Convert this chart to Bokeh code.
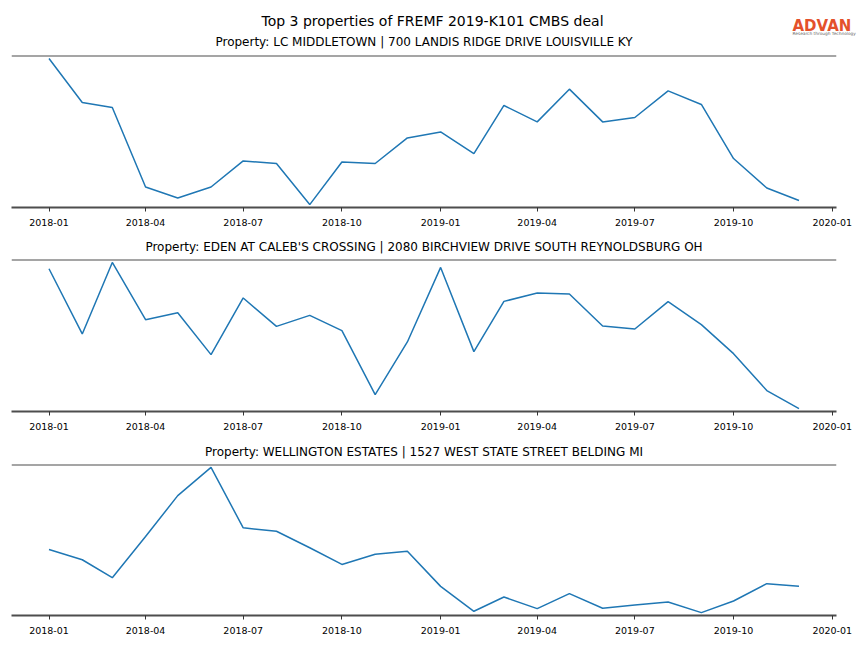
import pandas as pd
from bokeh.plotting import figure
from bokeh.layouts import column
from bokeh.models import FixedTicker, Span, Range1d, DatetimeTickFormatter
from bokeh.core.properties import value
from bokeh.embed import file_html
from bokeh.resources import INLINE

# ---------------- data ----------------
months = pd.date_range("2018-01-01", "2019-12-01", freq="MS")

main_title = "Top 3 properties of FREMF 2019-K101 CMBS deal"
subtitles = [
    "Property: LC MIDDLETOWN | 700 LANDIS RIDGE DRIVE LOUISVILLE KY",
    "Property: EDEN AT CALEB'S CROSSING | 2080 BIRCHVIEW DRIVE SOUTH REYNOLDSBURG OH",
    "Property: WELLINGTON ESTATES | 1527 WEST STATE STREET BELDING MI",
]

middletown = [148.4, 104.4, 99.4, 20.0, 9.0, 20.0, 46.0, 43.4, 2.4, 45.0, 43.4, 69.0,
              75.0, 53.4, 101.4, 85.0, 117.7, 85.0, 89.4, 116.0, 102.4, 48.4, 19.0, 6.4]
eden = [142.7, 77.4, 149.0, 91.7, 98.7, 56.7, 113.4, 85.0, 96.0, 80.7, 16.7, 69.4,
        144.0, 59.7, 110.0, 118.4, 117.4, 85.4, 82.4, 109.7, 86.7, 57.7, 20.7, 2.7]
wellington = [66.0, 55.7, 37.7, 79.0, 120.0, 148.3, 87.7, 84.3, 67.7, 51.0, 61.3, 64.3,
              29.0, 4.0, 18.3, 6.7, 21.7, 7.0, 10.3, 13.3, 2.7, 14.3, 31.7, 29.0]

tick_dates = ["2018-01-01", "2018-04-01", "2018-07-01", "2018-10-01", "2019-01-01",
              "2019-04-01", "2019-07-01", "2019-10-01", "2020-01-01"]
tick_labels = ["2018-01", "2018-04", "2018-07", "2018-10", "2019-01",
               "2019-04", "2019-07", "2019-10", "2020-01"]

logo_text = "ADVAN"
logo_tagline = "Research through Technology"

# ---------------- styling ----------------
FONT = "DejaVu Sans"
LINE = "#1f77b4"
SPINE = "#4d4d4d"
W = 864
HEADER_H = 52

tick_ms = [int(pd.Timestamp(d).value // 10**6) for d in tick_dates]
overrides = {ms: lab for ms, lab in zip(tick_ms, tick_labels)}

t0 = months[0]
t1 = months[-1]
xpad = (t1 - t0) * 0.05
x_start = t0 - xpad
x_end = t1 + xpad

# ---------------- header (suptitle, logo, first subplot title) ----------------
hdr = figure(width=W, height=HEADER_H, output_backend="svg", toolbar_location=None,
             x_range=Range1d(0, W), y_range=Range1d(HEADER_H, 0),
             x_axis_location=None, y_axis_location=None,
             min_border=0, min_border_left=0, min_border_right=0,
             min_border_top=0, min_border_bottom=0)
hdr.title = None
hdr.xgrid.visible = False
hdr.ygrid.visible = False
hdr.outline_line_color = None
hdr.background_fill_color = "white"
hdr.border_fill_color = "white"
hdr.text(x=[432], y=[20], text=[main_title], text_font=value(FONT),
         text_font_size=value("14px"), text_align="center",
         text_baseline="alphabetic", text_color="black")
hdr.text(x=[423.5], y=[41.5], text=[subtitles[0]], text_font=value(FONT),
         text_font_size=value("12px"), text_align="center",
         text_baseline="alphabetic", text_color="black")
hdr.text(x=[792], y=[25.5], text=[logo_text], text_font=value(FONT),
         text_font_size=value("15px"), text_font_style="bold", text_align="left",
         text_baseline="alphabetic", text_color="#e4512b")
hdr.text(x=[792], y=[32.5], text=[logo_tagline], text_font=value(FONT),
         text_font_size=value("4.3px"), text_align="left",
         text_baseline="alphabetic", text_color="#666666")

# ---------------- three panels ----------------
series = [middletown, eden, wellington]
heights = [232 - HEADER_H, 205, 211]
borders_top = [55 - HEADER_H, 26, 27]
borders_bottom = [25, 26, 33]

figs = []
for i, (vals, sub) in enumerate(zip(series, subtitles)):
    lo, hi = min(vals), max(vals)
    ypad = (hi - lo) * 0.02
    y0, y1 = lo - ypad, hi + ypad
    p = figure(width=W, height=heights[i], x_axis_type="datetime",
               output_backend="svg", toolbar_location=None,
               x_range=Range1d(x_start, x_end), y_range=Range1d(y0, y1),
               y_axis_location=None,
               min_border_left=11, min_border_right=28,
               min_border_top=borders_top[i], min_border_bottom=borders_bottom[i])
    if i > 0:
        p.title.text = sub
        p.title.align = "center"
        p.title.text_font = FONT
        p.title.text_font_size = "12px"
        p.title.text_font_style = "normal"
        p.title.text_color = "black"
        p.title.standoff = 11
    else:
        p.title = None
    p.line(months, vals, line_color=LINE, line_width=1.5)

    p.xgrid.visible = False
    p.ygrid.visible = False
    p.outline_line_color = None
    p.background_fill_color = "white"
    p.border_fill_color = "white"

    ax = p.xaxis[0]
    ax.ticker = FixedTicker(ticks=tick_ms)
    ax.formatter = DatetimeTickFormatter(months="%Y-%m")
    ax.major_label_overrides = overrides
    ax.axis_line_color = SPINE
    ax.axis_line_width = 2
    ax.major_tick_line_color = "#333333"
    ax.major_tick_line_width = 1
    ax.major_tick_out = 4
    ax.major_tick_in = 0
    ax.minor_tick_line_color = None
    ax.major_label_text_font = FONT
    ax.major_label_text_font_size = "9.5px"
    ax.major_label_text_color = "black"
    ax.major_label_standoff = 7

    p.add_layout(Span(location=y1, dimension="width", line_color=SPINE, line_width=2))
    figs.append(p)

layout = column(hdr, column(*figs, spacing=0), spacing=0)
open("out.html", "w").write(file_html(layout, INLINE))
